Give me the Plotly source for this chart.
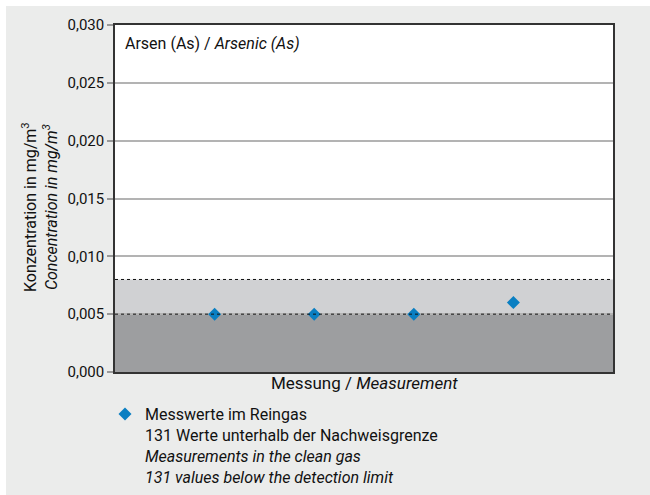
import plotly.graph_objects as go

# Messwerte Arsen im Reingas
messung = [1, 2, 3, 4]
konzentration = [0.005, 0.005, 0.005, 0.006]

# Bereiche: Bestimmungs- und Nachweisgrenze
grenze_unten = 0.005
grenze_oben = 0.008

y_ticks = [0.0, 0.005, 0.010, 0.015, 0.020, 0.025, 0.030]

FONT = "Roboto, Liberation Sans, sans-serif"
BG = "#ebeceb"

fig = go.Figure()
fig.add_trace(go.Scatter(
    x=messung, y=konzentration, mode="markers",
    marker=dict(symbol="diamond", size=10, color="#0a7fc2", line=dict(width=0)),
    name="Messwerte im Reingas<br>131 Werte unterhalb der Nachweisgrenze<br>"
         "<i>Measurements in the clean gas</i><br><i>131 values below the detection limit</i>",
    showlegend=True,
))

# Grau hinterlegte Bereiche
fig.add_shape(type="rect", xref="paper", x0=0, x1=1, y0=0, y1=grenze_unten,
              fillcolor="#9d9ea0", line_width=0, layer="below")
fig.add_shape(type="rect", xref="paper", x0=0, x1=1, y0=grenze_unten, y1=grenze_oben,
              fillcolor="#d0d1d3", line_width=0, layer="below")
for yv in (grenze_unten, grenze_oben):
    fig.add_shape(type="line", xref="paper", x0=0, x1=1, y0=yv, y1=yv,
                  line=dict(color="#111111", width=1, dash="dot"), layer="above")

# weisser Rand oben und links
fig.add_shape(type="rect", xref="paper", yref="paper", x0=-0.3, x1=(6 - 115) / 498,
              y0=-0.5, y1=1.2, fillcolor="white", line_width=0, layer="below")
fig.add_shape(type="rect", xref="paper", yref="paper", x0=-0.3, x1=1.2,
              y0=(372 - 6) / 347, y1=1.2, fillcolor="white", line_width=0, layer="below")

fig.add_annotation(xref="paper", yref="paper", x=(123 - 115) / 498, y=(372 - 44) / 347,
                   text="Arsen (As) / <i>Arsenic (As)</i>", showarrow=False,
                   xanchor="left", yanchor="middle", font=dict(size=16, color="#111111"))
fig.add_annotation(xref="paper", yref="paper", x=(40 - 115) / 498, y=(372 - 207) / 347,
                   text="Konzentration in mg/m<sup>3</sup><br><i>Concentration in mg/m<sup>3</sup></i>",
                   showarrow=False, textangle=-90, xanchor="center", yanchor="middle",
                   font=dict(size=16, color="#111111"))
fig.add_annotation(xref="paper", yref="paper", x=0.5, y=(372 - 383) / 347,
                   text="Messung / <i>Measurement</i>", showarrow=False,
                   xanchor="center", yanchor="middle", font=dict(size=17, color="#111111"))

fig.update_layout(
    width=650, height=495,
    margin=dict(l=115, r=37, t=25, b=123, autoexpand=False),
    paper_bgcolor=BG, plot_bgcolor="white",
    separators=",.",
    font=dict(family=FONT, size=16, color="#111111"),
    legend=dict(x=(105 - 115) / 498, y=(372 - 397) / 347, xanchor="left", yanchor="top",
                bgcolor="rgba(0,0,0,0)", valign="top", font=dict(size=16),
                itemwidth=30, tracegroupgap=0),
    xaxis=dict(range=[0, 5], showticklabels=False, ticks="", showgrid=False,
               zeroline=False, showline=True, linecolor="#333333", linewidth=1.5, mirror=True),
    yaxis=dict(range=[0, 0.030], tickvals=y_ticks, tickformat=".3f",
               ticks="outside", ticklen=6, tickcolor="#999999", tickwidth=1.5,
               showgrid=True, gridcolor="#b3b3b3", gridwidth=1.5, zeroline=False,
               showline=True, linecolor="#333333", linewidth=1.5, mirror=True,
               tickfont=dict(size=15)),
)

fig.write_html("out.html")
